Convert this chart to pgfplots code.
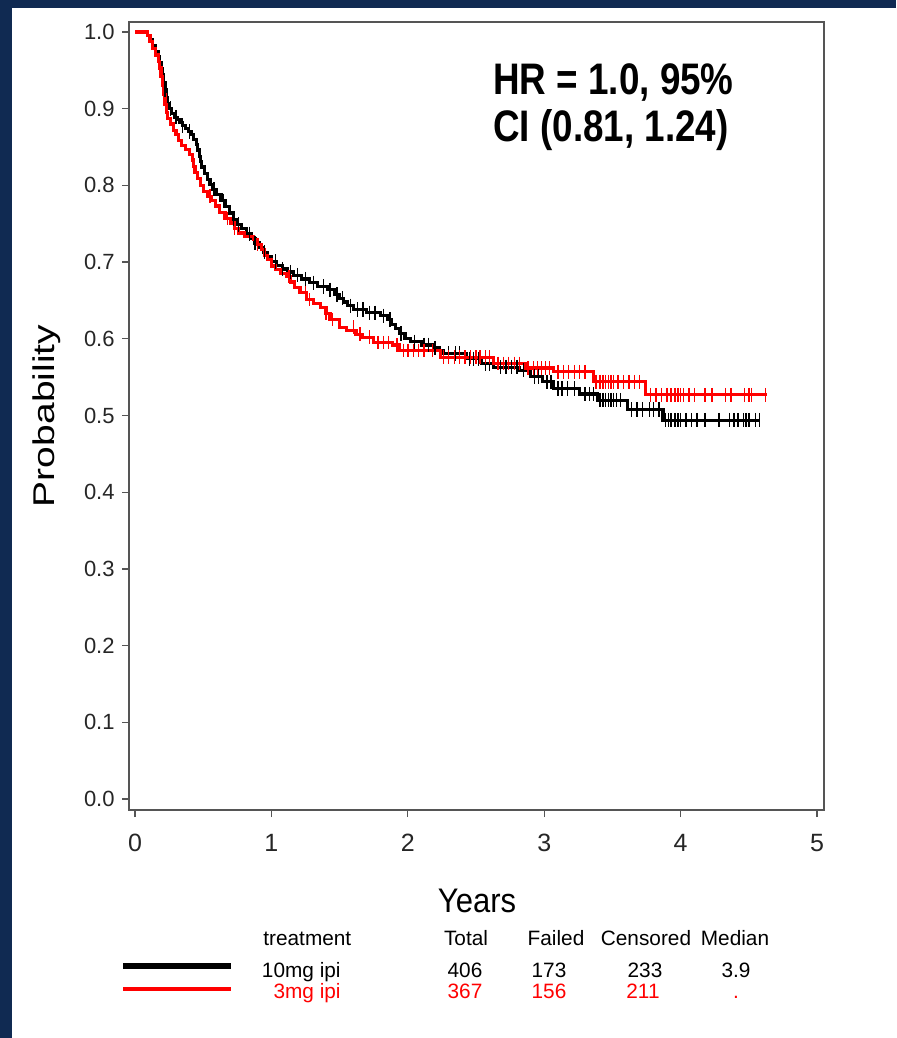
\documentclass[border=0pt]{standalone}
\usepackage{fontspec}
\setmainfont{Liberation Sans}
\usepackage{pgfplots}
\pgfplotsset{compat=1.18}
\usepackage{pgfplotstable}
\usepackage{graphicx}
\definecolor{navy}{HTML}{102A52}
\definecolor{kmred}{HTML}{FF0000}
\definecolor{axgray}{HTML}{555555}

% Kaplan-Meier steps, 10mg arm
\pgfplotstableread{
x y
0 1.000
0.07 1.000
0.09 0.995
0.11 0.990
0.13 0.982
0.15 0.975
0.17 0.968
0.18 0.960
0.19 0.952
0.20 0.944
0.21 0.934
0.22 0.925
0.23 0.915
0.24 0.907
0.25 0.900
0.27 0.894
0.29 0.889
0.31 0.886
0.33 0.882
0.35 0.878
0.37 0.874
0.39 0.870
0.41 0.866
0.43 0.860
0.45 0.853
0.46 0.846
0.47 0.838
0.48 0.831
0.49 0.824
0.51 0.816
0.53 0.808
0.55 0.801
0.57 0.795
0.60 0.788
0.63 0.780
0.66 0.772
0.69 0.764
0.72 0.756
0.75 0.749
0.78 0.744
0.82 0.737
0.85 0.731
0.88 0.725
0.91 0.719
0.94 0.713
0.97 0.707
1.00 0.701
1.04 0.696
1.08 0.691
1.12 0.687
1.16 0.683
1.22 0.678
1.28 0.673
1.34 0.668
1.41 0.664
1.46 0.658
1.50 0.653
1.53 0.648
1.56 0.643
1.60 0.638
1.70 0.634
1.80 0.630
1.85 0.625
1.88 0.619
1.91 0.613
1.94 0.607
1.98 0.600
2.02 0.596
2.10 0.592
2.19 0.588
2.23 0.585
2.26 0.581
2.43 0.574
2.54 0.568
2.63 0.563
2.82 0.559
2.90 0.551
2.99 0.544
3.07 0.535
3.26 0.528
3.39 0.520
3.61 0.508
3.87 0.494
4.58 0.494
}\tenmg

% Kaplan-Meier steps, 3mg arm
\pgfplotstableread{
x y
0 1.000
0.06 1.000
0.09 0.995
0.11 0.988
0.13 0.978
0.15 0.970
0.17 0.962
0.18 0.953
0.19 0.942
0.20 0.930
0.21 0.918
0.22 0.905
0.23 0.895
0.24 0.887
0.26 0.880
0.28 0.872
0.30 0.866
0.32 0.858
0.34 0.852
0.37 0.847
0.40 0.840
0.42 0.833
0.43 0.825
0.44 0.817
0.46 0.809
0.48 0.800
0.50 0.792
0.53 0.786
0.56 0.780
0.59 0.773
0.62 0.765
0.66 0.757
0.70 0.751
0.73 0.744
0.76 0.738
0.80 0.733
0.87 0.729
0.90 0.723
0.93 0.716
0.95 0.709
0.97 0.703
1.00 0.695
1.03 0.690
1.07 0.685
1.11 0.681
1.14 0.674
1.17 0.667
1.21 0.660
1.26 0.651
1.31 0.646
1.36 0.641
1.40 0.633
1.43 0.625
1.50 0.615
1.55 0.611
1.62 0.606
1.67 0.602
1.75 0.595
1.89 0.592
1.94 0.585
2.24 0.576
2.63 0.568
2.86 0.562
3.07 0.557
3.36 0.544
3.74 0.527
4.63 0.527
}\threemg

% censored observations
\pgfplotstableread{
x y
0.22 0.925
0.26 0.900
0.30 0.889
0.35 0.878
0.40 0.870
0.45 0.853
0.58 0.795
0.65 0.780
0.72 0.756
0.76 0.749
0.84 0.737
0.88 0.725
0.95 0.713
1.03 0.701
1.08 0.691
1.14 0.687
1.19 0.683
1.25 0.678
1.31 0.673
1.38 0.668
1.43 0.664
1.48 0.658
1.52 0.653
1.58 0.643
1.63 0.638
1.67 0.638
1.72 0.634
1.76 0.634
1.82 0.630
1.87 0.625
1.95 0.607
2.05 0.596
2.12 0.592
2.15 0.592
2.20 0.588
2.30 0.581
2.35 0.581
2.38 0.581
2.45 0.574
2.48 0.574
2.52 0.574
2.57 0.568
2.60 0.568
2.68 0.563
2.72 0.563
2.76 0.563
2.80 0.563
2.85 0.559
2.93 0.551
2.96 0.551
3.02 0.544
3.05 0.544
3.10 0.535
3.13 0.535
3.17 0.535
3.22 0.535
3.30 0.528
3.33 0.528
3.36 0.528
3.41 0.520
3.43 0.520
3.45 0.520
3.47 0.520
3.49 0.520
3.51 0.520
3.53 0.520
3.56 0.520
3.64 0.508
3.68 0.508
3.72 0.508
3.77 0.508
3.80 0.508
3.84 0.508
3.89 0.494
3.91 0.494
3.93 0.494
3.96 0.494
3.98 0.494
4.00 0.494
4.04 0.494
4.08 0.494
4.12 0.494
4.18 0.494
4.28 0.494
4.36 0.494
4.39 0.494
4.42 0.494
4.46 0.494
4.48 0.494
4.50 0.494
4.55 0.494
4.58 0.494
}\tenmgcens

\pgfplotstableread{
x y
0.55 0.786
0.68 0.757
0.73 0.744
0.90 0.723
1.13 0.681
1.25 0.660
1.28 0.651
1.40 0.633
1.45 0.625
1.60 0.615
1.65 0.606
1.72 0.602
1.78 0.595
1.82 0.595
1.86 0.595
1.92 0.592
1.97 0.585
2.00 0.585
2.04 0.585
2.08 0.585
2.12 0.585
2.18 0.585
2.26 0.576
2.30 0.576
2.34 0.576
2.38 0.576
2.42 0.576
2.46 0.576
2.50 0.576
2.53 0.576
2.57 0.576
2.60 0.576
2.66 0.568
2.70 0.568
2.74 0.568
2.78 0.568
2.82 0.568
2.88 0.562
2.92 0.562
2.95 0.562
2.98 0.562
3.01 0.562
3.04 0.562
3.10 0.557
3.14 0.557
3.18 0.557
3.22 0.557
3.26 0.557
3.30 0.557
3.38 0.544
3.41 0.544
3.43 0.544
3.45 0.544
3.47 0.544
3.49 0.544
3.51 0.544
3.54 0.544
3.58 0.544
3.62 0.544
3.66 0.544
3.70 0.544
3.78 0.527
3.82 0.527
3.86 0.527
3.90 0.527
3.93 0.527
3.96 0.527
3.98 0.527
4.00 0.527
4.02 0.527
4.06 0.527
4.10 0.527
4.18 0.527
4.23 0.527
4.33 0.527
4.37 0.527
4.47 0.527
4.50 0.527
4.52 0.527
4.62 0.527
}\threemgcens

\begin{document}
\begin{tikzpicture}
\useasboundingbox (0,0) rectangle (448pt,-519pt);
\fill[navy] (0,0) rectangle (448pt,-519pt);
\fill[white] (6pt,-4pt) rectangle (448pt,-519pt);

\begin{axis}[
  at={(64.5pt,-405pt)}, anchor=south west,
  scale only axis, width=347.5pt, height=394pt,
  xmin=-0.044, xmax=5.051, ymin=-0.0143, ymax=1.013,
  xtick={0,1,2,3,4,5},
  ytick={0,0.1,0.2,0.3,0.4,0.5,0.6,0.7,0.8,0.9,1.0},
  xtick pos=bottom, ytick pos=left,
  tick align=outside, major tick length=3.5pt,
  tick style={axgray, line width=0.6pt},
  axis line style={axgray, line width=0.75pt},
  /pgf/number format/assume math mode=true,
  yticklabel style={/pgf/number format/fixed, /pgf/number format/fixed zerofill, /pgf/number format/precision=1},
  yticklabel style={font=\fontsize{11}{13}\selectfont, text=black!85, inner sep=0pt, xshift=-3.5pt},
  xticklabel style={font=\fontsize{12.5}{14}\selectfont, text=black!85, yshift=-5pt},
]
\addplot[const plot, black, line width=1.6pt] table[x=x, y=y] {\tenmg};
\addplot[const plot, kmred, line width=1.6pt] table[x=x, y=y] {\threemg};
\addplot[only marks, mark=|, mark size=3.6pt, black, mark options={line width=0.7pt}] table[x=x, y=y] {\tenmgcens};
\addplot[only marks, mark=|, mark size=3.4pt, kmred, mark options={line width=0.7pt}] table[x=x, y=y] {\threemgcens};
\end{axis}

% axis titles
\node[rotate=90] at (23.5pt,-208pt) {\scalebox{1.3}[1]{\fontsize{15}{17}\selectfont Probability}};
\node at (238.5pt,-450.5pt) {\scalebox{1}[1.1]{\fontsize{15.5}{17}\selectfont Years}};

% hazard ratio annotation
\node[anchor=base west, inner sep=0pt] at (246.5pt,-47.5pt)
  {\scalebox{1}[1.2]{\fontsize{18.4}{20}\selectfont\bfseries HR = 1.0, 95\%}};
\node[anchor=base west, inner sep=0pt] at (246.5pt,-70.5pt)
  {\scalebox{1}[1.2]{\fontsize{18.4}{20}\selectfont\bfseries CI (0.81, 1.24)}};

% summary table under the plot
\begin{scope}[every node/.style={inner sep=0pt, font=\fontsize{10.4}{12}\selectfont}]
\node[anchor=base west] at (131.5pt,-472.5pt) {treatment};
\node[anchor=base] at (233pt,-472.5pt) {Total};
\node[anchor=base] at (278pt,-472.5pt) {Failed};
\node[anchor=base] at (323pt,-472.5pt) {Censored};
\node[anchor=base] at (367.5pt,-472.5pt) {Median};

\draw[black, line width=3pt] (61.5pt,-483pt) -- (115.5pt,-483pt);
\draw[kmred, line width=2pt] (61.5pt,-494.5pt) -- (115.5pt,-494.5pt);

\node[anchor=base east] at (170.5pt,-488.5pt) {10mg ipi};
\node[anchor=base] at (232.5pt,-488.5pt) {406};
\node[anchor=base] at (274.5pt,-488.5pt) {173};
\node[anchor=base] at (322.5pt,-488.5pt) {233};
\node[anchor=base] at (368pt,-488.5pt) {3.9};

\node[anchor=base east, text=kmred] at (170.5pt,-499pt) {3mg ipi};
\node[anchor=base, text=kmred] at (232.5pt,-499pt) {367};
\node[anchor=base, text=kmred] at (274.5pt,-499pt) {156};
\node[anchor=base, text=kmred] at (321.5pt,-499pt) {211};
\node[anchor=base, text=kmred] at (368pt,-499pt) {.};
\end{scope}
\end{tikzpicture}
\end{document}
